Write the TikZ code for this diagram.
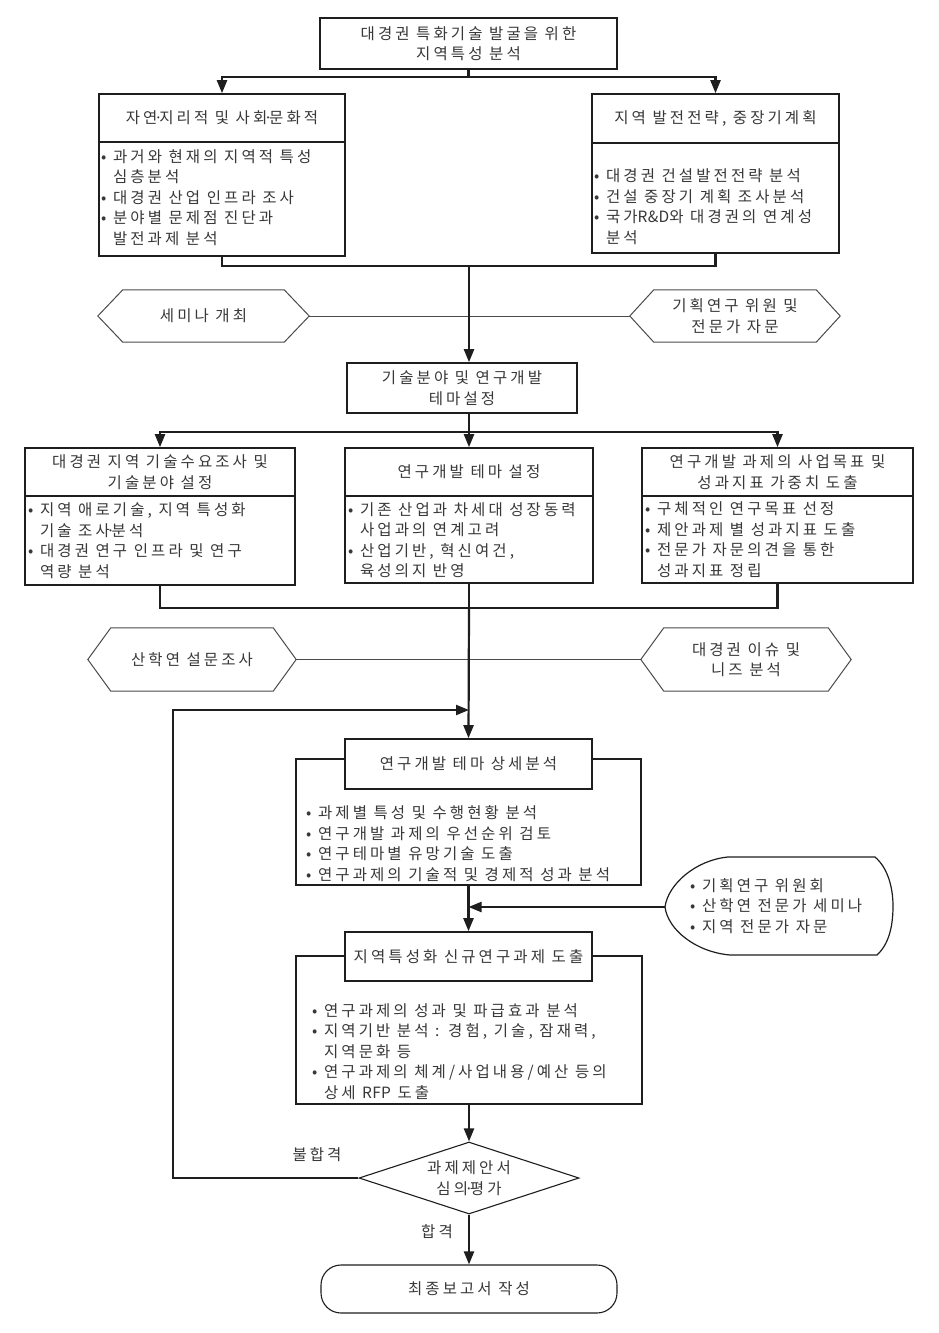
\documentclass[tikz,border=0pt]{standalone}
\usepackage{fontspec}
\setmainfont{Noto Sans CJK KR}[LetterSpace=20]
\usetikzlibrary{arrows.meta,shapes.geometric,calc}
\definecolor{ink}{HTML}{1E1E1E}
\definecolor{txt}{HTML}{383838}
\definecolor{thin}{HTML}{4A4A4A}
\newcommand\fs{\fontsize{15.5pt}{20.5pt}\selectfont}
\newcommand\bux{•~}
\newcommand\ixx{\phantom{•~}}
\newcommand\mdx{\kern-0.22em·\kern-0.22em}
\newcommand\latx[1]{{\addfontfeature{LetterSpace=2}#1}}
\newcommand\hexdraw[2]{\draw[hexline] (#1.west) -- ([xshift=#2pt]#1.north west) -- ([xshift=-#2pt]#1.north east) -- (#1.east) -- ([xshift=-#2pt]#1.south east) -- ([xshift=#2pt]#1.south west) -- cycle;}
\tikzset{
  box/.style={draw=ink, line width=1.6pt, rectangle, inner sep=0pt, fill=white, text=txt, font=\fs, align=center},
  body/.style={text=txt, font=\fs, align=left, inner sep=0pt},
  lab/.style={text=txt, font=\fs, align=center, inner sep=0pt},
  conn/.style={draw=ink, line width=2.2pt},
  arr/.style={conn, -{Triangle[length=13pt,width=10pt]}},
  hexn/.style={rectangle, inner sep=0pt, text=txt, font=\fs, align=center},
  hexline/.style={draw=thin, line width=1pt, fill=white},
  dia/.style={diamond, draw=ink, line width=1.1pt, aspect=3, minimum width=220pt, minimum height=72pt, inner sep=0pt, fill=white, text=txt, font=\fs, align=center},
  term/.style={rectangle, rounded corners=20pt, draw=ink, line width=1.1pt, minimum width=296pt, minimum height=48pt, inner sep=0pt, fill=white, text=txt, font=\fs, align=center}
}
\begin{document}
\begin{tikzpicture}[x=1pt,y=-1pt]
\useasboundingbox[fill=white] (0,0) rectangle (939,1333);

% ---------- top ----------
\node[box, minimum width=297pt, minimum height=51pt] (top) at (468.5,43.5) {대경권 특화기술 발굴을 위한\\지역특성 분석};

\node[box, minimum width=246pt, minimum height=48pt] (At) at (222,118) {자연\mdx 지리적 및 사회\mdx 문화적};
\node[box, minimum width=246pt, minimum height=114pt] (Ab) at (222,199) {};
\node[body, anchor=west] (Atx) at (101,197.5) {\bux 과거와 현재의 지역적 특성\\\ixx 심층분석\\\bux 대경권 산업 인프라 조사\\\bux 분야별 문제점 진단과\\\ixx 발전과제 분석};

\node[box, minimum width=247pt, minimum height=49pt] (Bt) at (715.5,118.5) {지역 발전전략, 중장기계획};
\node[box, minimum width=247pt, minimum height=110pt] (Bb) at (715.5,198) {};
\node[body, anchor=west] (Btx) at (594,206.5) {\bux 대경권 건설발전전략 분석\\\bux 건설 중장기 계획 조사분석\\\bux 국가\latx{R\&D}와 대경권의 연계성\\\ixx 분석};

\coordinate (s1) at (468.5,77);
\draw[conn] (top.south) -- (s1);
\draw[arr] (s1) -| (At.north);
\draw[arr] (s1) -| (Bt.north);

\coordinate (j1) at (469,266);
\draw[conn] (Ab.south) |- (j1);
\draw[conn] (Bb.south) |- (j1);

% ---------- hexagons 1 ----------
\node[hexn, minimum width=211pt, minimum height=52pt] (h1) at (203.5,316) {};
\node[hexn, minimum width=210pt, minimum height=52pt] (h2) at (735,316) {};
\draw[draw=thin, line width=1pt] (h1.east) -- (h2.west);
\hexdraw{h1}{25}
\hexdraw{h2}{24}
\node[lab] (h1t) at (h1.center) {세미나 개최};
\node[lab] (h2t) at (h2.center) {기획연구 위원 및\\전문가 자문};

\node[box, minimum width=230pt, minimum height=50pt] (C) at (462,388) {기술분야 및 연구개발\\테마설정};
\draw[arr] (j1) -- (j1 |- C.north);

% ---------- three boxes ----------
\node[box, minimum width=270pt, minimum height=48pt] (Dt) at (160,472) {대경권 지역 기술수요조사 및\\기술분야 설정};
\node[box, minimum width=270pt, minimum height=89pt] (Db) at (160,540.5) {};
\node[body, anchor=west] (Dtx) at (28,540.5) {\bux 지역 애로기술, 지역 특성화\\\ixx 기술 조사\mdx 분석\\\bux 대경권 연구 인프라 및 연구\\\ixx 역량 분석};

\node[box, minimum width=248pt, minimum height=48pt] (Et) at (469,472) {연구개발 테마 설정};
\node[box, minimum width=248pt, minimum height=87pt] (Eb) at (469,539.5) {};
\node[body, anchor=west] (Etx) at (348,540) {\bux 기존 산업과 차세대 성장동력\\\ixx 사업과의 연계고려\\\bux 산업기반, 혁신여건,\\\ixx 육성의지 반영};

\node[box, minimum width=271pt, minimum height=48pt] (Ft) at (777.5,472) {연구개발 과제의 사업목표 및\\성과지표 가중치 도출};
\node[box, minimum width=271pt, minimum height=87pt] (Fb) at (777.5,539.5) {};
\node[body, anchor=west] (Ftx) at (645,539.5) {\bux 구체적인 연구목표 선정\\\bux 제안과제 별 성과지표 도출\\\bux 전문가 자문의견을 통한\\\ixx 성과지표 정립};

\coordinate (s2) at (469,432);
\draw[conn] (s2 |- C.south) -- (s2);
\draw[arr] (s2) -| (Dt.north);
\draw[arr] (s2) -| (Ft.north);
\draw[arr] (s2) -- (Et.north);

\coordinate (j2) at (469,608);
\draw[conn] (Db.south) |- (j2);
\draw[conn] (Fb.south) |- (j2);
\draw[conn] (Eb.south) -- (j2);

% ---------- hexagons 2 ----------
\node[hexn, minimum width=208pt, minimum height=63pt] (h3) at (192,659.5) {};
\node[hexn, minimum width=210pt, minimum height=63pt] (h4) at (746,659.5) {};
\draw[draw=thin, line width=1pt] (h3.east) -- (h4.west);
\hexdraw{h3}{23}
\hexdraw{h4}{23}
\node[lab] (h3t) at (h3.center) {산학연 설문조사};
\node[lab] (h4t) at (h4.center) {대경권 이슈 및\\니즈 분석};

% ---------- detail analysis ----------
\node[box, minimum width=345pt, minimum height=126pt] (Go) at (468.5,822) {};
\node[box, minimum width=247pt, minimum height=50pt] (Gt) at (468.5,764) {연구개발 테마 상세분석};
\node[body, anchor=west] (Gtx) at (306,843.5) {\bux 과제별 특성 및 수행현황 분석\\\bux 연구개발 과제의 우선순위 검토\\\bux 연구테마별 유망기술 도출\\\bux 연구과제의 기술적 및 경제적 성과 분석};
\draw[arr] (j2) -- (Gt.north);

% blob
\coordinate (bp) at (665,907);
\draw[draw=ink, line width=1.2pt, fill=white] (bp) .. controls (668,884) and (696,860) .. (728,857) -- (875,857) .. controls (888,868) and (893,888) .. (893,906) .. controls (893,926) and (889,944) .. (877,955) -- (730,955) .. controls (696,952) and (668,930) .. (bp) -- cycle;
\node[body, anchor=west] (blt) at (690,906) {\bux 기획연구 위원회\\\bux 산학연 전문가 세미나\\\bux 지역 전문가 자문};

% ---------- new tasks ----------
\node[box, minimum width=346pt, minimum height=148pt] (Ho) at (469,1030) {};
\node[box, minimum width=247pt, minimum height=49pt] (Ht) at (468.5,956.5) {지역특성화 신규연구과제 도출};
\node[body, anchor=west] (Htx) at (312,1051.5) {\bux 연구과제의 성과 및 파급효과 분석\\\bux 지역기반 분석 : 경험, 기술, 잠재력,\\\ixx 지역문화 등\\\bux 연구과제의 체계/사업내용/예산 등의\\\ixx 상세 \latx{RFP} 도출};
\draw[arr] (Go.south) -- (Ht.north);
\draw[arr] (bp) -- (bp -| Go.south);

% ---------- decision ----------
\node[dia] (dm) at (469,1178) {과제제안서\\심의\mdx 평가};
\draw[arr] (Ho.south) -- (dm.north);

\coordinate (fbc) at (173,710);
\coordinate (m3) at (469,710);
\draw[arr] (dm.west) -| (fbc) -- (m3);

\node[term] (fin) at (469,1289) {최종보고서 작성};
\draw[arr] (dm.south) -- (fin.north);

\node[lab] (fail) at (317,1155) {불합격};
\node[lab] (pass) at (437,1232) {합격};
\end{tikzpicture}
\end{document}
